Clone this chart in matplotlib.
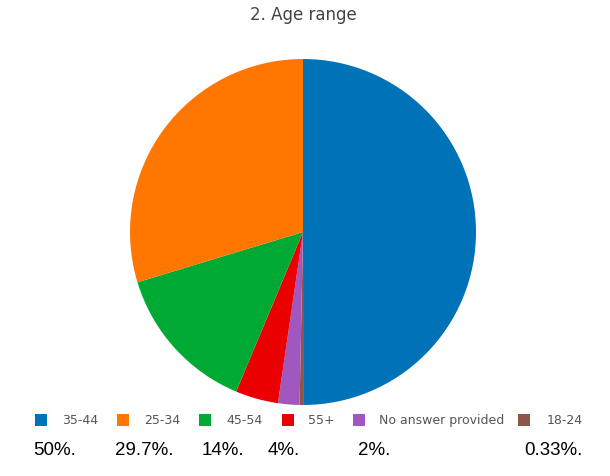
import matplotlib
matplotlib.use("Agg")
import matplotlib.pyplot as plt
from matplotlib.patches import Rectangle

title = "2. Age range"
# draw order (clockwise from 12 o'clock)
pie_labels = ["35-44", "18-24", "No answer provided", "55+", "45-54", "25-34"]
pie_values = [50, 0.33, 2, 4, 14, 29.7]
pie_colors = ["#0072b8", "#8c564b", "#a157c0", "#ea0000", "#00a933", "#ff7700"]

legend_labels = ["35-44", "25-34", "45-54", "55+", "No answer provided", "18-24"]
legend_colors = ["#0072b8", "#ff7700", "#00a933", "#ea0000", "#a157c0", "#8c564b"]
pct_texts = ["50%.", "29.7%.", "14%.", "4%.", "2%.", "0.33%."]

W, H = 610, 477
fig = plt.figure(figsize=(W / 100, H / 100), dpi=100)
fig.patch.set_facecolor("white")

# pie axes: center (303,233), radius 173 px
cx, cy, r = 303, 233, 173
ax = fig.add_axes([(cx - r) / W, (H - cy - r) / H, 2 * r / W, 2 * r / H])
ax.pie(pie_values, colors=pie_colors, startangle=90, counterclock=False,
       radius=1, wedgeprops=dict(linewidth=0))
ax.set_xlim(-1, 1)
ax.set_ylim(-1, 1)
ax.axis("off")

fig.text(303 / W, 1 - 19.5 / H, title, ha="center", va="baseline",
         fontsize=12, color="#444444", family="DejaVu Sans")

# legend
leg_sq_x = [35, 117, 199, 282, 353, 518]
leg_txt_x = [62, 144, 226, 308, 379, 547]
ly = 421
for sx, tx, lab, col in zip(leg_sq_x, leg_txt_x, legend_labels, legend_colors):
    fig.patches.append(Rectangle((sx / W, 1 - (ly + 6) / H), 12 / W, 12 / H,
                                 transform=fig.transFigure, facecolor=col,
                                 edgecolor="none"))
    fig.text(tx / W, 1 - 420.5 / H, lab, ha="left", va="center", fontsize=9,
             color="#555555", family="DejaVu Sans")

# percentage texts
pct_x = [33, 115, 202, 268, 358, 524]
for x, t in zip(pct_x, pct_texts):
    fig.text(x / W, 1 - 455 / H, t, ha="left", va="baseline", fontsize=13.5,
             color="black", family="Liberation Sans")

fig.savefig("out.png", dpi=100, facecolor="white")
